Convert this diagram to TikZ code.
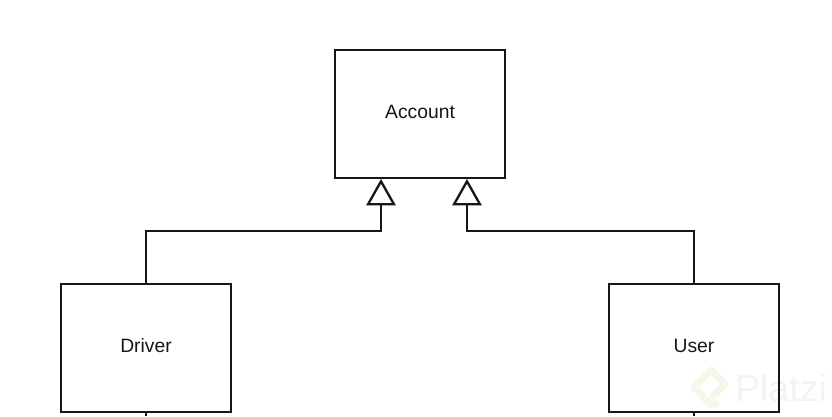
\documentclass[tikz,border=0pt]{standalone}
\usepackage{fontspec}
\setmainfont{Liberation Sans}
\usetikzlibrary{shapes.geometric}
\definecolor{wmgrey}{RGB}{243,243,243}
\definecolor{wmgreen}{RGB}{243,248,234}
\definecolor{ink}{RGB}{22,22,22}
\newcommand{\boxlabel}[1]{\raisebox{5pt}{#1}}
\tikzset{
  classbox/.style={draw=ink,line width=2.3pt,minimum width=170pt,minimum height=128pt,inner sep=0pt,font=\fontsize{19.3}{22}\selectfont,text=ink},
  hollowtip/.style={draw=ink,fill=white,line width=2.3pt,isosceles triangle,isosceles triangle apex angle=59,isosceles triangle stretches,shape border rotate=90,minimum height=23pt,minimum width=26pt,inner sep=0pt,anchor=apex},
  wire/.style={draw=ink,line width=2.3pt},
  stub/.style={draw=ink,line width=1.2pt},
}
\begin{document}
\begin{tikzpicture}[x=1pt,y=1pt]
\useasboundingbox (0,0) rectangle (832,416);
% watermark
\draw[wmgreen,line width=7pt,line join=round,line cap=round] (716,12) -- (711,11) -- (694,29) -- (711,46) -- (725,32) -- (713,20);
\node[text=wmgrey,font=\fontsize{37.5}{40}\selectfont,inner sep=0pt,anchor=base] (wm) at (781,15) {Platzi};
% boxes
\node[classbox] (account) at (420,302) {\boxlabel{Account}};
\node[classbox] (driver) at (146,68) {\boxlabel{Driver}};
\node[classbox] (user) at (694,68) {\boxlabel{User}};
% triangles
\node[hollowtip] (tipl) at (381,237) {};
\node[hollowtip] (tipr) at (467,237) {};
% elbows
\coordinate (elbowl) at (146,185);
\coordinate (elbowr) at (694,185);
\coordinate (bendl) at (381,185);
\coordinate (bendr) at (467,185);
% connectors
\draw[wire] (driver.north) -- (elbowl) -- (bendl) -- (tipl.lower side);
\draw[wire] (user.north) -- (elbowr) -- (bendr) -- (tipr.lower side);
% stubs below the lower boxes, at the picture's edge
\coordinate (edgel) at (146,0);
\coordinate (edger) at (694,0);
\draw[stub] (driver.south) -- (edgel);
\draw[stub] (user.south) -- (edger);
\end{tikzpicture}
\end{document}
